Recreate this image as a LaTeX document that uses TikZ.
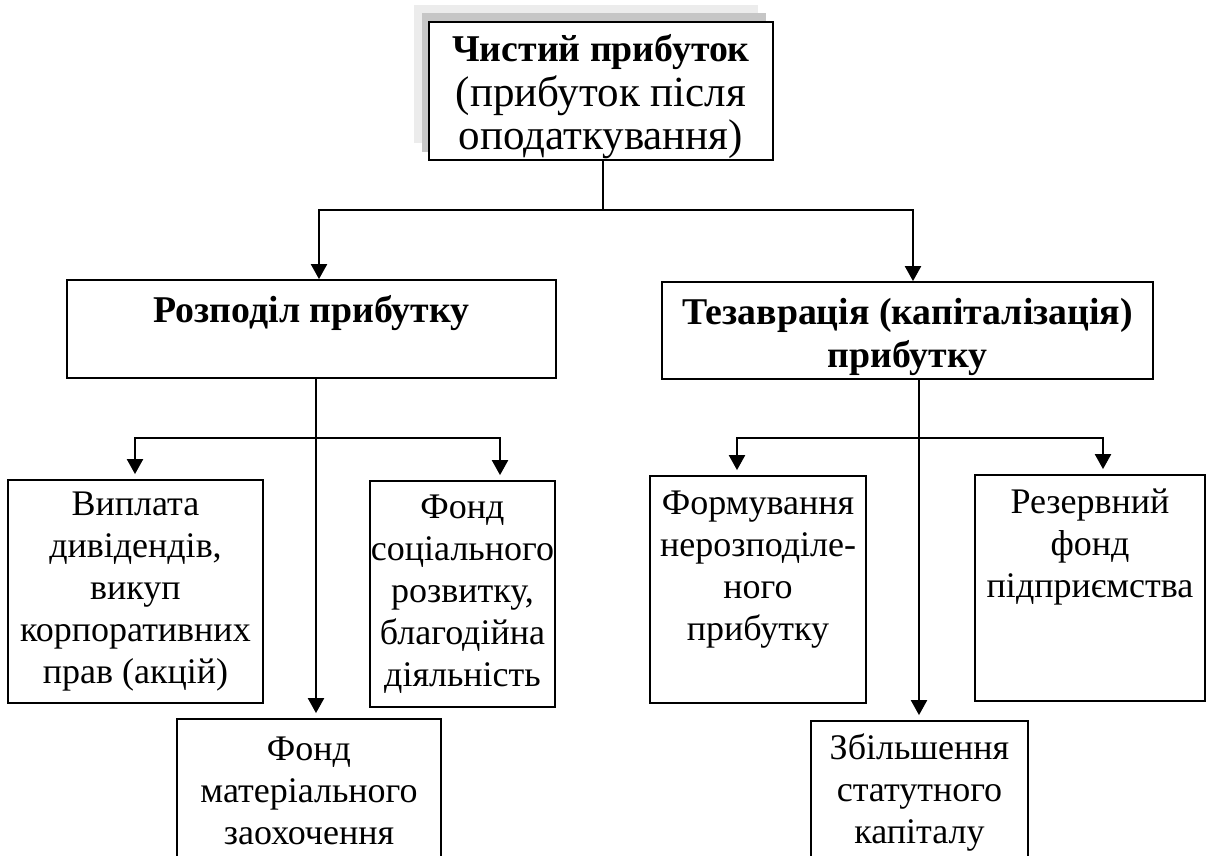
\documentclass[tikz,border=0pt]{standalone}
\usepackage{fontspec}
\setmainfont{Liberation Serif}
\usetikzlibrary{arrows.meta,fit}
\begin{document}
\begin{tikzpicture}[x=1pt,y=-1pt,
  box/.style={draw, line width=1.8pt, inner sep=0pt, fill=white},
  txt/.style={anchor=north, align=center, inner sep=0pt, font=\fontsize{36}{42}\selectfont},
  head/.style={anchor=north, align=center, inner sep=0pt, font=\fontsize{37.8}{43}\selectfont},
  big/.style={font=\fontsize{43}{43}\selectfont},
  conn/.style={line width=2.2pt},
  arr/.style={line width=2.2pt, -{Triangle[width=16pt,length=15pt]}},
  sarr/.style={arr, shorten >=5pt}]
\useasboundingbox (0,0) rectangle (1207,855);
% shadow of the top box
\fill[gray!15] (414,5) rectangle (758,143);
\fill[gray!45] (422,13) rectangle (766,152);
% box corners
\path (429,22) coordinate (t1) (773,160) coordinate (t2)
      (67,280) coordinate (r1) (556,378) coordinate (r2)
      (662,282) coordinate (z1) (1153,379) coordinate (z2)
      (8,480) coordinate (v1) (263,703) coordinate (v2)
      (370,481) coordinate (s1) (555,707) coordinate (s2)
      (177,719) coordinate (m1) (441,870) coordinate (m2)
      (650,476) coordinate (f1) (866,703) coordinate (f2)
      (975,475) coordinate (e1) (1205,701) coordinate (e2)
      (811,721) coordinate (k1) (1028,870) coordinate (k2);
\node[box, fit=(t1)(t2)] (top) {};
\node[box, fit=(r1)(r2)] (roz) {};
\node[box, fit=(z1)(z2)] (tez) {};
\node[box, fit=(v1)(v2)] (vyp) {};
\node[box, fit=(s1)(s2)] (soc) {};
\node[box, fit=(m1)(m2)] (mat) {};
\node[box, fit=(f1)(f2)] (form) {};
\node[box, fit=(e1)(e2)] (rez) {};
\node[box, fit=(k1)(k2)] (zbil) {};
% texts
\node[head, yshift=-10pt] (toptxt) at (top.north) {\strut\textbf{Чистий прибуток}\\{\fontsize{43}{43}\selectfont(прибуток після}\\{\fontsize{43}{43}\selectfont оподаткування)}};
\node[head, yshift=-13pt] (roztxt) at (roz.north) {\strut\textbf{Розподіл прибутку}};
\node[head, yshift=-13pt] (teztxt) at (tez.north) {\strut\textbf{Тезаврація (капіталізація)}\\\textbf{прибутку}};
\node[txt, yshift=-7pt] (vyptxt) at (vyp.north) {\strut Виплата\\дивідендів,\\викуп\\корпоративних\\прав (акцій)};
\node[txt, yshift=-9pt] (soctxt) at (soc.north) {\strut Фонд\\соціального\\розвитку,\\благодійна\\діяльність};
\node[txt, yshift=-13pt] (mattxt) at (mat.north) {\strut Фонд\\матеріального\\заохочення};
\node[txt, yshift=-10pt] (formtxt) at (form.north) {\strut Формування\\нерозподіле-\\ного\\прибутку};
\node[txt, yshift=-10pt] (reztxt) at (rez.north) {\strut Резервний\\фонд\\підприємства};
\node[txt, yshift=-10pt] (zbiltxt) at (zbil.north) {\strut Збільшення\\статутного\\капіталу};
% branch points
\coordinate (h0) at (603,210);
\coordinate (hl) at (319,210);
\coordinate (hr) at (913,210);
\coordinate (lm) at (316,438);
\coordinate (lb) at (135,438);
\coordinate (lc) at (500,438);
\coordinate (rm) at (919,438);
\coordinate (rb) at (737,438);
\coordinate (rc) at (1103,438);
% connectors
\draw[conn] (h0 |- top.south) -- (h0);
\draw[arr] (h0) -- (hl) -- (hl |- roz.north);
\draw[arr] (h0) -- (hr) -- (hr |- tez.north);
\draw[sarr] (lm |- roz.south) -- (lm |- mat.north);
\draw[sarr] (lm) -- (lb) -- (lb |- vyp.north);
\draw[sarr] (lm) -- (lc) -- (lc |- soc.north);
\draw[sarr] (rm |- tez.south) -- (rm |- zbil.north);
\draw[sarr] (rm) -- (rb) -- (rb |- form.north);
\draw[sarr] (rm) -- (rc) -- (rc |- rez.north);
\end{tikzpicture}
\end{document}
